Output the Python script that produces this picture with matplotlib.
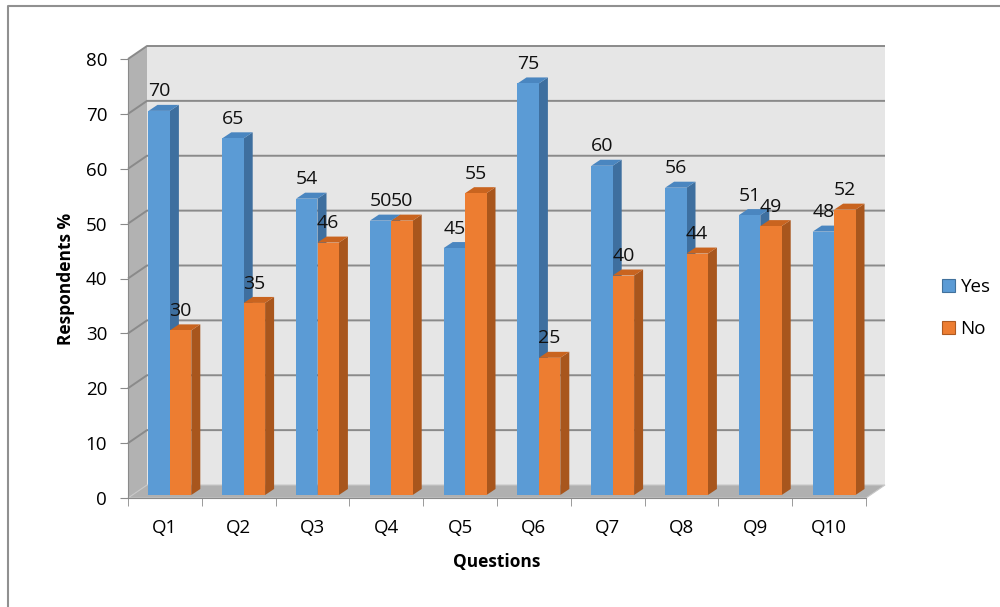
import matplotlib.pyplot as plt
from matplotlib.patches import Polygon, Patch
import numpy as np

plt.rcParams['font.family'] = ['Open Sans', 'DejaVu Sans']

questions = ['Q1', 'Q2', 'Q3', 'Q4', 'Q5', 'Q6', 'Q7', 'Q8', 'Q9', 'Q10']
yes = [70, 65, 54, 50, 45, 75, 60, 56, 51, 48]
no = [30, 35, 46, 50, 55, 25, 40, 44, 49, 52]
yticks = [0, 10, 20, 30, 40, 50, 60, 70, 80]

W, H = 1000, 607
fig = plt.figure(figsize=(W / 100, H / 100), dpi=100)

# front plane of the axes, in pixels (origin top left)
left_px, right_px, top_px, bot_px = 128, 866, 59, 498
ax = fig.add_axes([left_px / W, 1 - bot_px / H,
                   (right_px - left_px) / W, (bot_px - top_px) / H])
ax.set_xlim(0.5, 10.5)
ax.set_ylim(0, 80)

# pixel -> data conversions for the fake depth
ux = 10.0 / (right_px - left_px)
uy = 80.0 / (bot_px - top_px)

def off(px, py):
    return px * ux, py * uy

wall_dx, wall_dy = off(19, 13)
bar_dx, bar_dy = off(5, 3)
dep_dx, dep_dy = off(9, 6)

x0, x1 = 0.5, 10.5

# left side wall, back wall and floor
ax.add_patch(Polygon([(x0, 0), (x0, 80), (x0 + wall_dx, 80 + wall_dy), (x0 + wall_dx, wall_dy)],
                     closed=True, fc='#b2b2b2', ec='none', zorder=1, clip_on=False))
ax.add_patch(Polygon([(x0 + wall_dx, wall_dy), (x0 + wall_dx, 80 + wall_dy),
                      (x1 + wall_dx, 80 + wall_dy), (x1 + wall_dx, wall_dy)],
                     closed=True, fc='#e6e6e6', ec='none', zorder=1, clip_on=False))
ax.add_patch(Polygon([(x0, 0), (x1, 0), (x1 + wall_dx, wall_dy), (x0 + wall_dx, wall_dy)],
                     closed=True, fc='#b0b0b0', ec='#c8c8c8', lw=0.8, zorder=2, clip_on=False))

for v in yticks[1:]:
    ax.plot([x0, x0 + wall_dx, x1 + wall_dx], [v, v + wall_dy, v + wall_dy],
            color='#8a8a8a', lw=1.4, zorder=1.5, clip_on=False, solid_capstyle='butt')

# 3d columns
w = 0.29
pos = np.arange(1, len(questions) + 1)
blue = ('#5b9bd5', '#3e6f9f', '#4a86c0')
orange = ('#ed7d31', '#a8561d', '#c9641f')

def column(xl, val, cols):
    xa, ya = xl + bar_dx, bar_dy
    xb, yb = xa + w, val + bar_dy
    front, side, top = cols
    ax.add_patch(Polygon([(xb, ya), (xb + dep_dx, ya + dep_dy), (xb + dep_dx, yb + dep_dy), (xb, yb)],
                         closed=True, fc=side, ec='none', zorder=3, clip_on=False))
    ax.add_patch(Polygon([(xa, yb), (xb, yb), (xb + dep_dx, yb + dep_dy), (xa + dep_dx, yb + dep_dy)],
                         closed=True, fc=top, ec='none', zorder=3, clip_on=False))

for i in range(len(questions)):
    for xl, val, cols in [(pos[i] - w, yes[i], blue), (pos[i], no[i], orange)]:
        column(xl, val, cols)
        ax.bar(xl + bar_dx, val, width=w, bottom=bar_dy, align='edge',
               color=cols[0], edgecolor='none', zorder=3, clip_on=False)
        ax.text(xl + bar_dx + w / 2, val + bar_dy + 1.9, str(val), ha='center', va='bottom',
                fontsize=14, color='#111111', zorder=5)

# axes lines and ticks
for s in ['top', 'right']:
    ax.spines[s].set_visible(False)
ax.spines['left'].set_color('#8a8a8a')
ax.spines['bottom'].set_color('#8a8a8a')
ax.spines['left'].set_zorder(4)
ax.spines['bottom'].set_zorder(4)
ax.patch.set_visible(False)

ax.set_yticks(yticks)
ax.tick_params(axis='y', length=6, color='#8a8a8a', labelsize=13.5, pad=9)
ax.set_xticks(pos)
ax.set_xticklabels(questions)
ax.set_xticks(np.arange(0.5, 11, 1), minor=True)
ax.tick_params(axis='x', which='major', length=0, labelsize=13.5, pad=15)
ax.tick_params(axis='x', which='minor', length=6, color='#8a8a8a')

ax.set_xlabel('Questions', fontsize=12.5, fontweight='bold', labelpad=12)
ax.set_ylabel('Respondents %', fontsize=12.5, fontweight='bold', labelpad=8)

handles = [Patch(fc=blue[0], ec='#41719c', lw=0.8), Patch(fc=orange[0], ec='#ae5a21', lw=0.8)]
fig.legend(handles, ['Yes', 'No'], loc='center left', bbox_to_anchor=(925 / W, 1 - 308 / H),
           frameon=False, fontsize=13.5, handlelength=0.7, handleheight=0.7,
           handletextpad=0.3, labelspacing=1.3)

# chart border
fig.add_artist(plt.Line2D([8 / W, 8 / W, 1], [0, 1 - 6 / H, 1 - 6 / H],
                          color='#909090', lw=1.5, transform=fig.transFigure))

fig.savefig('out.png', dpi=100)
